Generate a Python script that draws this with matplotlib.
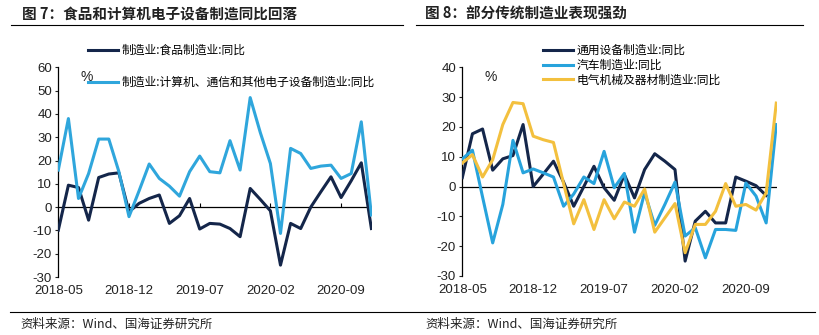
import matplotlib
matplotlib.use("Agg")
from matplotlib import pyplot as plt
from matplotlib.lines import Line2D
import numpy as np

plt.rcParams['font.family'] = ['Liberation Sans', 'Noto Sans CJK SC', 'DejaVu Sans']
plt.rcParams['axes.unicode_minus'] = False
CJK = ['Noto Sans CJK SC', 'DejaVu Sans']

# months 2018-05 .. 2020-12
months = ["2018-05", "2018-06", "2018-07", "2018-08", "2018-09", "2018-10", "2018-11", "2018-12",
          "2019-01", "2019-02", "2019-03", "2019-04", "2019-05", "2019-06", "2019-07", "2019-08",
          "2019-09", "2019-10", "2019-11", "2019-12", "2020-01", "2020-02", "2020-03", "2020-04",
          "2020-05", "2020-06", "2020-07", "2020-08", "2020-09", "2020-10", "2020-11", "2020-12"]
tick_labels = ["2018-05", "2018-12", "2019-07", "2020-02", "2020-09"]

# figure 7
food = [-9.9, 9.4, 8.4, -5.6, 12.7, 14.2, 14.7, -2.0, 1.6, 3.7, 5.2, -7.0, -3.7, 3.7, -9.4, -7.0,
        -7.3, -9.2, -12.7, 8.0, 3.3, -1.6, -24.9, -7.0, -9.2, 0.0, 6.6, 13.0, 4.1, 11.3, 19.0, -9.2]
electronics = [15.9, 38.0, 3.7, 14.4, 29.2, 29.2, 15.2, -4.1, 7.0, 18.5, 12.3, 9.0, 4.7, 15.2, 21.9, 15.2,
               14.7, 28.5, 15.9, 47.0, 32.0, 18.7, -11.3, 25.2, 23.0, 16.6, 17.6, 18.0, 12.3, 14.4, 36.6, -3.4]

# figure 8
general_equip = [3.0, 17.7, 19.3, 5.5, 9.3, 10.4, 20.8, 0.0, 4.2, 8.5, 1.5, -6.6, 0.0, 6.8, -0.4, -4.6,
                 4.0, -3.8, 5.7, 11.0, 8.5, 5.7, -25.0, -11.6, -8.3, -12.2, -12.2, 3.2, 1.8, 0.3, -3.0, np.nan]
auto = [9.3, 12.2, -3.5, -18.9, -6.0, 15.5, 4.6, 5.9, 4.6, 3.2, -6.6, -2.5, 3.2, 1.0, 11.8, -0.4,
        4.4, -15.3, -2.0, -13.0, -6.0, 1.5, -16.6, -13.8, -23.9, -14.4, -14.4, -14.7, 1.2, -3.2, -12.2, 20.8]
electrical = [7.9, 10.7, 3.2, 9.0, 20.8, 28.2, 27.8, 16.9, 15.7, 14.8, 1.0, -12.5, -4.4, -14.4, -4.4, -10.8,
              -5.2, -6.6, -0.8, -15.3, -10.5, -5.7, -22.2, -12.7, -12.7, -8.3, 1.0, -6.6, -6.0, -7.9, -2.1, 28.0]

NAVY = "#14264a"
LIGHT = "#2fa6dc"
BLUE = "#27a3dc"
GOLD = "#f3c03e"

W, H = 819, 335
fig = plt.figure(figsize=(W / 100, H / 100), dpi=100)


def fx(px):
    return px / W


def fy(py):
    return 1 - py / H


def setup_axes(ax, ymin, ymax, step):
    x = np.arange(len(months))
    ax.set_xlim(0, 31.1)
    ax.set_ylim(ymin, ymax)
    ax.set_yticks(np.arange(ymin, ymax + 1, step))
    ax.tick_params(axis='y', direction='out', length=2.5, width=0.8, pad=2, labelsize=9.5, colors='#222222')
    ax.set_xticks([months.index(t) for t in tick_labels])
    ax.set_xticklabels(tick_labels)
    ax.tick_params(axis='x', length=0, pad=6, labelsize=9.5, colors='#222222')
    for s in ['top', 'right', 'bottom']:
        ax.spines[s].set_visible(False)
    ax.spines['left'].set_linewidth(0.9)
    ax.axhline(0, color='black', lw=0.9, zorder=1)
    # small tick marks pointing up on the zero line
    frac = (0 - ymin) / (ymax - ymin)
    sec = ax.secondary_xaxis(frac)
    sec.set_xticks([months.index(t) for t in tick_labels[1:]])
    sec.tick_params(axis='x', direction='in', length=3, width=0.8, labelbottom=False, labeltop=False)
    sec.set_xticklabels([])
    sec.spines['bottom'].set_visible(False)
    sec.spines['top'].set_visible(False)
    ax.text(0.07, 0.985, "%", transform=ax.transAxes, fontsize=10, va='top', ha='left', color='#222222')
    return x


# left chart
ax1 = fig.add_axes([fx(58.3), fy(277), fx(314.1), (277 - 67.3) / H])
x = setup_axes(ax1, -30, 60, 10)
l1, = ax1.plot(x, food, color=NAVY, lw=2.2, zorder=3)
l2, = ax1.plot(x, electronics, color=LIGHT, lw=2.2, zorder=4)
ax1.legend([l1, l2], ["制造业:食品制造业:同比", "制造业:计算机、通信和其他电子设备制造业:同比"],
           loc='upper left', bbox_to_anchor=(fx(88), fy(44)), bbox_transform=fig.transFigure,
           frameon=False, borderpad=0, borderaxespad=0, handlelength=2.5, handletextpad=0.35,
           labelspacing=1.6, prop={'family': CJK, 'size': 8.5})

# right chart
ax2 = fig.add_axes([fx(462.3), fy(276), fx(315), (276 - 67.3) / H])
x = setup_axes(ax2, -30, 40, 10)
r1, = ax2.plot(x, general_equip, color=NAVY, lw=2.2, zorder=3)
r2, = ax2.plot(x, auto, color=BLUE, lw=2.2, zorder=4)
r3, = ax2.plot(x, electrical, color=GOLD, lw=2.2, zorder=5)
ax2.legend([r1, r2, r3], ["通用设备制造业:同比", "汽车制造业:同比", "电气机械及器材制造业:同比"],
           loc='upper left', bbox_to_anchor=(fx(543), fy(44)), bbox_transform=fig.transFigure,
           frameon=False, borderpad=0, borderaxespad=0, handlelength=2.5, handletextpad=0.35,
           labelspacing=0.15, prop={'family': CJK, 'size': 8.5})

# titles, rules and sources
fig.text(fx(22), fy(14), "图 7：食品和计算机电子设备制造同比回落", fontsize=10.5, fontweight='bold',
         family=CJK, va='center', ha='left', color='#222222')
fig.text(fx(425), fy(14), "图 8：部分传统制造业表现强劲", fontsize=10.5, fontweight='bold',
         family=CJK, va='center', ha='left', color='#222222')
fig.add_artist(Line2D([fx(11), fx(403)], [fy(25), fy(25)], color='black', lw=0.8))
fig.add_artist(Line2D([fx(416), fx(803)], [fy(25), fy(25)], color='black', lw=0.8))
fig.add_artist(Line2D([fx(10), fx(815)], [fy(312), fy(312)], color='black', lw=0.8))
fig.text(fx(20), fy(324), "资料来源：Wind、国海证券研究所", fontsize=9, family=CJK,
         va='center', ha='left', color='#222222')
fig.text(fx(425), fy(324), "资料来源：Wind、国海证券研究所", fontsize=9, family=CJK,
         va='center', ha='left', color='#222222')

fig.savefig("out.png", dpi=100)
